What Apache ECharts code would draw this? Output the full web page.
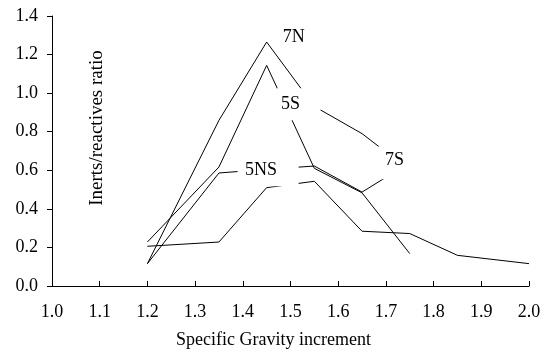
<!DOCTYPE html>
<html>
<head>
<meta charset="utf-8">
<script src="https://cdn.jsdelivr.net/npm/echarts@6/dist/echarts.min.js"></script>
<style>
  html, body { margin: 0; padding: 0; background: #fff; }
  #chart { width: 546px; height: 354px; }
</style>
</head>
<body>
<div id="chart"></div>
<script>
// Specific gravity increments (x) and inerts/reactives ratio per sample (y)
const sg      = [1.2, 1.35, 1.45, 1.55, 1.65, 1.75, 1.85, 2.0];
const r7N     = [0.116, 0.859, 1.265, 0.931, 0.790, 0.600];
const r5S     = [0.228, 0.617, 1.144, 0.610, 0.483, 0.168];
const r5NS    = [0.116, 0.586, 0.605, 0.622, 0.487, 0.640];
const r7S     = [0.206, 0.228, 0.510, 0.543, 0.284, 0.272, 0.159, 0.116];

const seriesNames = ['7N', '5S', '5NS', '7S'];
const seriesValues = [r7N, r5S, r5NS, r7S];

// Label anchors (data space) for the in-plot text boxes
const labelNames  = ['7N', '5S', '5NS', '7S'];
const labelAnchor = [[1.507, 1.292], [1.517, 0.942], [1.453, 0.584], [1.720, 0.639]];

const xTicks = { min: 1.0, max: 2.0, step: 0.1 };
const yTicks = { min: 0.0, max: 1.4, step: 0.2 };

// Box sizes and text offsets for the labels (opaque white boxes over the lines)
const boxSize   = { '7N': [26, 18], '5S': [44, 32], '5NS': [61, 26], '7S': [34, 33] };
const textShift = { '7N': [0, 0],   '5S': [-8, 0],  '5NS': [-7, -3], '7S': [-1, -2] };

const FONT = '"Liberation Serif", "Times New Roman", serif';

const chart = echarts.init(document.getElementById('chart'), null, { renderer: 'canvas' });

const lineSeries = seriesNames.map((name, i) => ({
  name: name,
  type: 'line',
  z: 2,
  symbol: 'none',
  lineStyle: { color: '#000', width: 1 },
  data: seriesValues[i].map((v, k) => [sg[k], v])
}));

const labelSeries = {
  type: 'custom',
  z: 10,
  silent: true,
  clip: false,
  data: labelAnchor,
  renderItem: function (params, api) {
    const c = api.coord([api.value(0), api.value(1)]);
    const name = labelNames[params.dataIndex];
    const s = boxSize[name];
    const d = textShift[name];
    return {
      type: 'group',
      children: [
        {
          type: 'rect',
          shape: { x: c[0] - s[0] / 2, y: c[1] - s[1] / 2, width: s[0], height: s[1] },
          style: { fill: '#fff' }
        },
        {
          type: 'text',
          x: c[0] + d[0], y: c[1] + d[1],
          style: {
            text: name, fill: '#000', font: '18px ' + FONT,
            textAlign: 'center', textVerticalAlign: 'middle'
          }
        }
      ]
    };
  }
};

chart.setOption({
  animation: false,
  backgroundColor: '#fff',
  grid: { left: 52, right: 17, top: 16, bottom: 68 },
  xAxis: {
    type: 'value',
    min: xTicks.min, max: xTicks.max, interval: xTicks.step,
    name: 'Specific Gravity increment',
    nameLocation: 'middle',
    nameGap: 45,
    nameTextStyle: { color: '#000', fontFamily: FONT, fontSize: 18, padding: [0, 34, 0, 0] },
    axisLine: { lineStyle: { color: '#000', width: 1 } },
    axisTick: { inside: true, length: 5, lineStyle: { color: '#000' } },
    splitLine: { show: false },
    axisLabel: {
      color: '#000', fontFamily: FONT, fontSize: 18, margin: 17,
      formatter: v => v.toFixed(1)
    }
  },
  yAxis: {
    type: 'value',
    min: yTicks.min, max: yTicks.max, interval: yTicks.step,
    axisLine: { show: true, lineStyle: { color: '#000', width: 1 } },
    axisTick: { show: true, inside: false, length: 5, lineStyle: { color: '#000' } },
    splitLine: { show: false },
    axisLabel: {
      color: '#000', fontFamily: FONT, fontSize: 18, margin: 14,
      formatter: v => v.toFixed(1)
    }
  },
  graphic: [{
    type: 'text',
    x: 97, y: 128,
    rotation: Math.PI / 2,
    style: {
      text: 'Inerts/reactives ratio',
      fill: '#000',
      font: '19px ' + FONT,
      textAlign: 'center',
      textVerticalAlign: 'middle'
    }
  }],
  series: lineSeries.concat([labelSeries])
});
</script>
</body>
</html>
